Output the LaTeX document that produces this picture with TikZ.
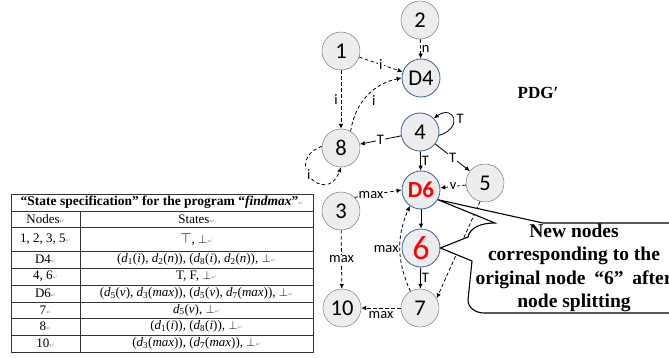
\documentclass[tikz,border=0pt]{standalone}
\usepackage{fontspec}
\setmainfont{Liberation Serif}
\newfontfamily\calibri{Carlito}
\newfontfamily\dejavu{DejaVu Sans}
\usetikzlibrary{arrows.meta}
\definecolor{nodeedge}{RGB}{105,105,105}
\definecolor{splitblue}{RGB}{60,95,145}
\definecolor{markgray}{RGB}{150,150,150}
\newcommand{\retmark}{{\dejavu\fontsize{6}{6}\selectfont\color{markgray}↵}}
\newcommand{\dsub}[2]{\textit{d}\textsubscript{#1}(\textit{#2})}
\tikzset{
	state/.style={circle,draw=nodeedge,fill=black!7,minimum size=38pt,inner sep=0pt,
		font=\calibri\fontsize{22.5}{22.5}\selectfont},
	split/.style={state,draw=splitblue,line width=0.8pt},
	flow/.style={-{Latex[length=5pt,width=4.5pt]},line width=0.8pt},
	dep/.style={flow,dash pattern=on 3.5pt off 2.5pt},
	elabel/.style={font=\calibri\fontsize{14.5}{14.5}\selectfont,inner sep=1pt},
	online/.style={elabel,fill=white},
	tabline/.style={line width=0.6pt,black!80},
	cell/.style={font=\fontsize{13}{13}\selectfont,inner sep=0pt},
}
\begin{document}
\begin{tikzpicture}[x=1pt,y=1pt]
	\useasboundingbox (0,0) rectangle (669,-358);
	\clip (0,0) rectangle (669,-358);
	% PDG' nodes
	\node[state] (n2) at (420,-20) {2};
	\node[state] (n1) at (341,-51) {1};
	\node[split] (d4) at (421,-78) {D4};
	\node[split] (n4) at (420,-132) {4};
	\node[state] (n8) at (341,-148) {8};
	\node[state] (n5) at (485,-183) {5};
	\node[split,text=red,font=\calibri\bfseries\fontsize{23}{23}\selectfont] (d6) at (421,-190) {D6};
	\node[state] (n3) at (341,-211) {3};
	\node[split,text=red,font=\calibri\fontsize{34}{34}\selectfont] (n6) at (421,-248) {6};
	\node[state] (n10) at (342,-308) {10};
	\node[state] (n7) at (420,-308) {7};
	\node[font=\bfseries\fontsize{17}{17}\selectfont] (title) at (538,-93) {PDG′};
	% edges
	\draw[dep] (n2) -- node[elabel,right] {n} (d4);
	\draw[dep] (n1) -- node[online] {i} (d4);
	\draw[dep] (n1) -- node[elabel,left=2pt] {i} (n8);
	\draw[dep] (n8.60) to[bend left=35] node[elabel,below right=1pt,pos=0.55] {i} (d4.west);
	\draw[flow] (n4) -- node[online] {T} (n8);
	\draw[flow] (n4.-10) .. controls +(25,8) and +(20,14) .. node[elabel,right=2pt] {T} (n4.45);
	\draw[flow] (n4) -- node[elabel,right] {T} (d6);
	\draw[flow] (n4) -- node[online] {T} (n5);
	\draw[dep] (n5) -- node[online] {v} (d6);
	\draw[dep] (n3.45) -- node[online,pos=0.35] {max} (d6.west);
	\draw[dep] (n3) -- node[online] {max} (n10);
	\draw[flow] (d6) -- (n6);
	\draw[flow] (n6) -- node[elabel,right] {T} (n7);
	\draw[dep] (n7.120) to[bend left=24] node[elabel,left] {max} (d6.-125);
	\draw[dep] (n5.-105) -- node[elabel,left=3pt] {v} (n7.30);
	\draw[dep] (n7) -- node[elabel,below=2pt] {max} (n10);
	\draw[dep] (n8.175) .. controls +(-40,-15) and +(-15,-40) .. node[online,pos=0.45] {i} (n8.-90);
	% callout
	\draw[line width=1.1pt,fill=white] (680,-223) -- (543,-223) -- (d6.-30) -- (495,-223)
		.. controls (480,-223) and (470,-228) .. (468,-237) -- (n6.east) -- (472,-261)
		-- (468,-300) to[out=-90,in=180] (484,-313) -- (680,-313);
	\node[font=\bfseries\fontsize{19.5}{23.5}\selectfont,align=center] (note) at (574,-268)
		{New nodes\\corresponding to the\\original node\hspace{0.45em}“6”\hspace{0.45em}after\\node splitting};
	% state specification table
	\draw[tabline] (11,-194) rectangle (313,-352);
	\foreach \y in {211,227,251,268,285,302,318,335}
		\draw[tabline] (11,-\y) -- (313,-\y);
	\draw[tabline] (80,-211) -- (80,-352);
	\node[cell,font=\fontsize{13.5}{13.5}\selectfont] (caption) at (162,-202.5) {\textbf{“State\ specification”\ for the program “\textit{findmax}”}\retmark};
	\node[cell] (hnodes) at (45.5,-219) {Nodes\retmark};
	\node[cell] (hstates) at (196.5,-219) {States\retmark};
	\node[cell] (k1) at (45.5,-239) {1, 2, 3, 5\retmark};
	\node[cell] (v1) at (196.5,-239) {{\Large$\top$}, $\bot$\retmark};
	\node[cell] (k2) at (45.5,-259.5) {D4\retmark};
	\node[cell] (v2) at (196.5,-259.5) {(\dsub{1}{i},\ \dsub{2}{n}),\ (\dsub{8}{i},\ \dsub{2}{n}),\ $\bot$\retmark};
	\node[cell] (k3) at (45.5,-276.5) {4, 6\retmark};
	\node[cell] (v3) at (196.5,-276.5) {T, F, $\bot$\retmark};
	\node[cell] (k4) at (45.5,-293.5) {D6\retmark};
	\node[cell] (v4) at (196.5,-293.5) {(\dsub{5}{v},\ \dsub{3}{max}),\ (\dsub{5}{v},\ \dsub{7}{max}),\ $\bot$\retmark};
	\node[cell] (k5) at (45.5,-310) {7\retmark};
	\node[cell] (v5) at (196.5,-310) {\dsub{5}{v}, $\bot$\retmark};
	\node[cell] (k6) at (45.5,-326.5) {8\retmark};
	\node[cell] (v6) at (196.5,-326.5) {(\dsub{1}{i}),\ (\dsub{8}{i}),\ $\bot$\retmark};
	\node[cell] (k7) at (45.5,-343.5) {10\retmark};
	\node[cell] (v7) at (196.5,-343.5) {(\dsub{3}{max}),\ (\dsub{7}{max}),\ $\bot$\retmark};
\end{tikzpicture}
\end{document}
